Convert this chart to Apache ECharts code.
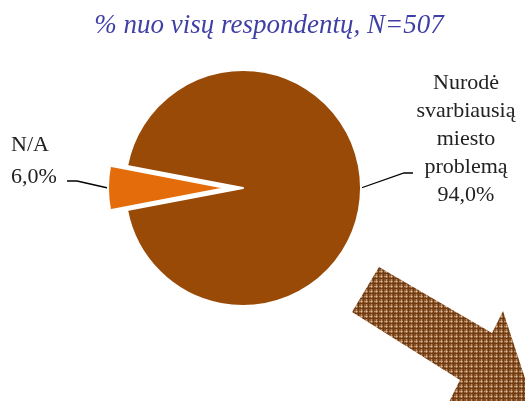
<!DOCTYPE html>
<html lang="lt">
<head>
    <meta charset="UTF-8">
    <title>Svarbiausia miesto problema</title>
    <script src="https://cdn.jsdelivr.net/npm/echarts@6/dist/echarts.min.js"></script>
    <style>
        html, body { margin: 0; padding: 0; background: #fff; }
        #chart { width: 525px; height: 401px; }
    </style>
</head>
<body>
    <div id="chart"></div>
    <script>
        // duomenys
        const categories = ['Nurodė\nsvarbiausią\nmiesto\nproblemą', 'N/A'];
        const shares = [94.0, 6.0];
        const colors = ['#994a07', '#e46c0a'];
        const titleText = '% nuo visų respondentų, N=507';

        // languoto rašto užpildas rodyklei
        function plaidPattern() {
            const c = document.createElement('canvas');
            c.width = 5; c.height = 5;
            const ctx = c.getContext('2d');
            ctx.fillStyle = '#8c5429';
            ctx.fillRect(0, 0, 5, 5);
            ctx.fillStyle = '#b98d67';
            ctx.fillRect(0, 1, 5, 1);
            ctx.fillRect(1, 0, 1, 5);
            ctx.fillStyle = '#d6bb9c';
            ctx.fillRect(1, 1, 1, 1);
            ctx.fillStyle = '#6e3a12';
            ctx.fillRect(0, 3, 5, 1);
            ctx.fillRect(3, 0, 1, 5);
            return c;
        }

        const chart = echarts.init(document.getElementById('chart'));
        const serif = '"Liberation Serif", "DejaVu Serif", serif';
        const explode = 17; // atitrauktas N/A sektorius

        const fmt = p => p.name + '\n' + p.value.toFixed(1).replace('.', ',') + '%';

        // kiekviena serija rodo tik vieną sektorių
        function pieSeries(shown, cx, place, line, lh) {
            return {
                type: 'pie',
                center: [cx, 188],
                radius: 118,
                startAngle: 169.2,
                clockwise: true,
                silent: true,
                label: {
                    fontFamily: serif,
                    fontSize: 22,
                    lineHeight: lh,
                    color: '#222',
                    formatter: fmt
                },
                labelLine: { show: true, lineStyle: { color: '#000', width: 1.3 } },
                labelLayout: function (p) {
                    const a = p.labelLinePoints ? p.labelLinePoints[0] : null;
                    return Object.assign({}, place, {
                        labelLinePoints: a ? [a, line[0], line[1]] : undefined
                    });
                },
                data: categories.map((name, i) => ({
                    name: name,
                    value: shares[i],
                    label: { show: i === shown },
                    labelLine: { show: i === shown },
                    itemStyle: i === shown
                        ? { color: colors[i], borderColor: '#fff', borderWidth: 2 }
                        : { color: 'rgba(0,0,0,0)', borderWidth: 0 }
                }))
            };
        }

        chart.setOption({
            animation: false,
            title: {
                text: titleText,
                left: 264,
                top: 7,
                textAlign: 'center',
                textStyle: {
                    fontFamily: serif,
                    fontStyle: 'italic',
                    fontWeight: 'normal',
                    fontSize: 27,
                    color: '#3f3fa5'
                }
            },
            graphic: [{
                type: 'polygon',
                silent: true,
                shape: {
                    points: [[379, 267], [492, 333], [503, 311], [536, 412], [448, 404], [460, 380], [352, 312]]
                },
                style: { fill: { image: plaidPattern(), repeat: 'repeat' } }
            }],
            series: [
                pieSeries(0, 243,
                    { x: 466, y: 139, align: 'center', verticalAlign: 'middle' },
                    [[404, 173], [413, 173]], 28),
                pieSeries(1, 243 - explode,
                    { x: 11, y: 161, align: 'left', verticalAlign: 'middle' },
                    [[77, 181], [67, 181]], 32)
            ]
        });
    </script>
</body>
</html>
